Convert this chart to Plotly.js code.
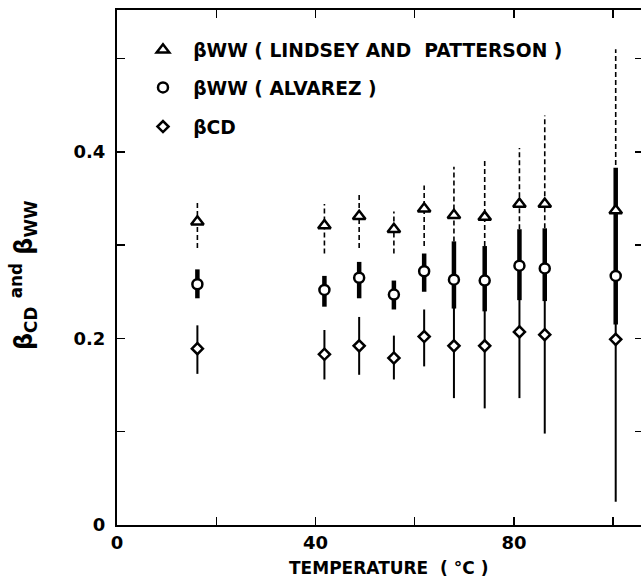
<!DOCTYPE html>
<html><head><meta charset="utf-8">
<script src="https://cdn.plot.ly/plotly-3.0.1.min.js"></script>
<style>html,body{margin:0;padding:0;overflow:hidden;background:#fff}</style>
</head><body><div id="chart" style="width:643px;height:582px"></div>
<script>
// Temperature (°C)
const temperature = [16.2, 41.8, 48.8, 55.8, 61.9, 67.9, 74.1, 81.1, 86.2, 100.5];

// βWW (Lindsey and Patterson) — triangles, dashed bars
const bwwLP     = [0.325, 0.321, 0.331, 0.317, 0.339, 0.332, 0.330, 0.344, 0.344, 0.337];
const bwwLPHigh = [0.348, 0.344, 0.356, 0.336, 0.364, 0.384, 0.391, 0.404, 0.439, 0.510];
const bwwLPLow  = [0.297, 0.291, 0.297, 0.291, 0.299, 0.304, 0.299, 0.317, 0.318, 0.300];

// βWW (Alvarez) — circles, thick bars
const bwwAlv     = [0.258, 0.252, 0.265, 0.247, 0.272, 0.263, 0.262, 0.278, 0.275, 0.267];
const bwwAlvHigh = [0.274, 0.267, 0.282, 0.262, 0.291, 0.304, 0.299, 0.317, 0.318, 0.383];
const bwwAlvLow  = [0.243, 0.234, 0.243, 0.231, 0.250, 0.232, 0.229, 0.241, 0.240, 0.215];

// βCD — diamonds, thin bars
const bcd     = [0.189, 0.183, 0.192, 0.179, 0.202, 0.192, 0.192, 0.207, 0.204, 0.199];
const bcdHigh = [0.214, 0.209, 0.223, 0.203, 0.231, 0.248, 0.259, 0.278, 0.310, 0.373];
const bcdLow  = [0.162, 0.156, 0.161, 0.156, 0.170, 0.136, 0.125, 0.136, 0.098, 0.025];

const seriesNames = ['βWW ( LINDSEY AND  PATTERSON )', 'βWW ( ALVAREZ )', 'βCD'];
const xMajorTicks = [0, 40, 80];
const xMinorTicks = [20, 60, 100];
const yMajorTicks = [0, 0.2, 0.4];
const yMinorTicks = [0.1, 0.3, 0.5];

function bars(xs, lo, hi) {
  const X = [], Y = [];
  xs.forEach((x, i) => { X.push(x, x, null); Y.push(lo[i], hi[i], null); });
  return { X, Y };
}

const font = { family: 'DejaVu Sans', weight: 'bold', color: '#000' };
const withSize = s => Object.assign({}, font, { size: s });
const bCD = bars(temperature, bcdLow, bcdHigh);
const bAlv = bars(temperature, bwwAlvLow, bwwAlvHigh);
const bLP = bars(temperature, bwwLPLow, bwwLPHigh);
const PAD = '\u00A0\u2009';

const traces = [
  { x: bCD.X, y: bCD.Y, mode: 'lines', line: { color: '#000', width: 2 }, showlegend: false, hoverinfo: 'skip' },
  { x: bAlv.X, y: bAlv.Y, mode: 'lines', line: { color: '#000', width: 4.5 }, showlegend: false, hoverinfo: 'skip' },
  { x: bLP.X, y: bLP.Y, mode: 'lines', line: { color: '#000', width: 1.6, dash: '5px,3px' }, showlegend: false, hoverinfo: 'skip' },
  { x: temperature, y: bwwLP, mode: 'markers', name: PAD + seriesNames[0], legend: 'legend',
    marker: { symbol: 'triangle-up', size: 11, color: '#fff', line: { color: '#000', width: 2.5 } } },
  { x: temperature, y: bwwAlv, mode: 'markers', name: PAD + seriesNames[1], legend: 'legend2',
    marker: { symbol: 'circle', size: 10, color: '#fff', line: { color: '#000', width: 2.5 } } },
  { x: temperature, y: bcd, mode: 'markers', name: PAD + seriesNames[2], legend: 'legend3',
    marker: { symbol: 'diamond', size: 8.5, color: '#fff', line: { color: '#000', width: 2.5 } } }
];

const legendBase = { xanchor: 'left', yanchor: 'middle', bgcolor: 'rgba(0,0,0,0)', borderwidth: 0, font: withSize(18.7) };
const lx = 0.0494;

const axisBase = {
  ticks: 'inside', ticklen: 8, tickwidth: 1.5, tickcolor: '#000',
  showline: true, linecolor: '#000', linewidth: 2, mirror: 'allticks',
  showgrid: false, zeroline: false, tickfont: withSize(18)
};

const layout = {
  width: 643, height: 582,
  margin: { l: 117, r: 0, t: 10, b: 57 },
  paper_bgcolor: '#fff', plot_bgcolor: '#fff',
  font: withSize(17),
  xaxis: Object.assign({}, axisBase, { range: [0, 106], tickmode: 'array', tickvals: xMajorTicks,
    ticktext: xMajorTicks.map(String), ticklabelstandoff: 0,
    minor: { tickmode: 'array', tickvals: xMinorTicks, ticks: 'inside', ticklen: 8, tickwidth: 1.5, tickcolor: '#000', showgrid: false } }),
  yaxis: Object.assign({}, axisBase, { range: [0, 0.552], tickmode: 'array', tickvals: yMajorTicks,
    ticktext: yMajorTicks.map(v => v === 0 ? '0' : v.toFixed(1)), ticklabelstandoff: 6,
    minor: { tickmode: 'array', tickvals: yMinorTicks, ticks: 'inside', ticklen: 8, tickwidth: 1.5, tickcolor: '#000', showgrid: false } }),
  legend: Object.assign({}, legendBase, { x: lx, y: 0.922 }),
  legend2: Object.assign({}, legendBase, { x: lx, y: 0.849 }),
  legend3: Object.assign({}, legendBase, { x: lx, y: 0.773 }),
  annotations: [
    { text: 'TEMPERATURE\u00A0\u00A0(\u00A0°C\u00A0)',
      xref: 'paper', yref: 'paper', x: 0.516, y: -0.083, xanchor: 'center', yanchor: 'middle',
      showarrow: false, font: withSize(17) },
    { text: 'β<sub>CD</sub> <sup>and</sup> β<sub>WW</sub>', xref: 'paper', yref: 'paper', x: -0.178, y: 0.486,
      xanchor: 'center', yanchor: 'middle', textangle: -90, showarrow: false, font: withSize(24) }
  ],
  showlegend: true
};

Plotly.newPlot('chart', traces, layout, { staticPlot: true, displayModeBar: false });
</script></body></html>
